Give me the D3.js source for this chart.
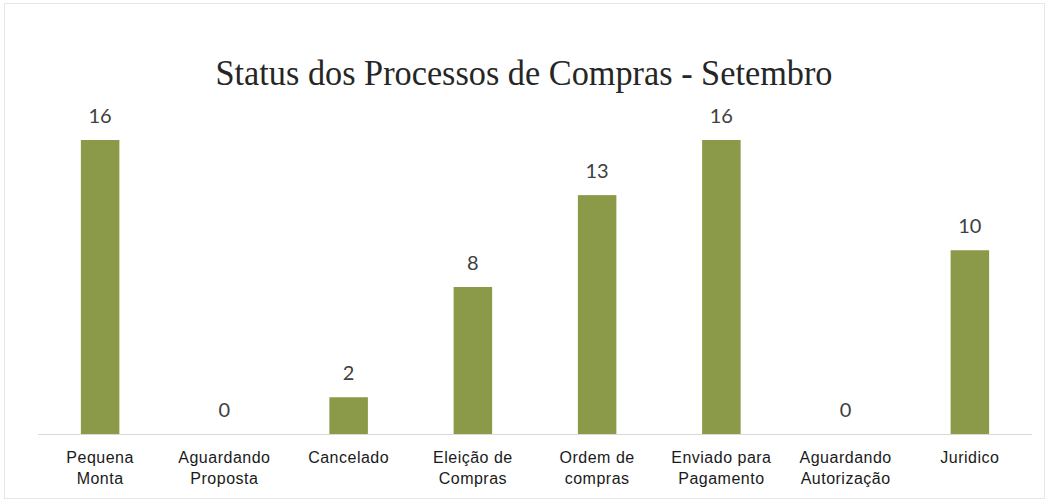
<!DOCTYPE html>
<html>
<head>
<meta charset="utf-8">
<script src="https://cdn.jsdelivr.net/npm/d3@7"></script>
<style>
  body { margin: 0; background: #fff; }
  svg { display: block; }
</style>
</head>
<body>
<svg id="chart"></svg>
<script>
var title = 'Status dos Processos de Compras - Setembro';
var categories = [
  ['Pequena', 'Monta'],
  ['Aguardando', 'Proposta'],
  ['Cancelado'],
  ['Eleição de', 'Compras'],
  ['Ordem de', 'compras'],
  ['Enviado para', 'Pagamento'],
  ['Aguardando', 'Autorização'],
  ['Juridico']
];
var values = [16, 0, 2, 8, 13, 16, 0, 10];

var width = 1049;
var height = 503;
var barColor = '#8a9a48';

var svg = d3.select('#chart')
  .attr('width', width)
  .attr('height', height);

// chart frame
svg.append('rect')
  .attr('x', 4.5).attr('y', 3.5)
  .attr('width', width - 9).attr('height', height - 8)
  .attr('fill', 'none')
  .attr('stroke', '#e6e6e6');

var x = d3.scaleBand()
  .domain(d3.range(categories.length))
  .range([38, 1032])
  .paddingInner(0.69)
  .paddingOuter(0.345);

var y = d3.scaleLinear()
  .domain([0, 16])
  .range([434, 140]);

svg.append('text')
  .attr('x', 524)
  .attr('y', 85)
  .attr('text-anchor', 'middle')
  .attr('font-family', 'Liberation Serif, serif')
  .attr('font-size', 36)
  .attr('fill', '#262626')
  .attr('textLength', 617)
  .attr('lengthAdjust', 'spacingAndGlyphs')
  .text(title);

svg.append('g')
  .selectAll('rect')
  .data(values)
  .enter().append('rect')
  .attr('x', function(d, i) { return x(i); })
  .attr('y', function(d) { return y(d); })
  .attr('width', x.bandwidth())
  .attr('height', function(d) { return y(0) - y(d); })
  .attr('fill', barColor);

// baseline
svg.append('line')
  .attr('x1', 38).attr('x2', 1032)
  .attr('y1', y(0) + 0.5).attr('y2', y(0) + 0.5)
  .attr('stroke', '#d9d9d9');

svg.append('g')
  .selectAll('text')
  .data(values)
  .enter().append('text')
  .attr('x', function(d, i) { return x(i) + x.bandwidth() / 2; })
  .attr('y', function(d) { return y(d) - 17; })
  .attr('text-anchor', 'middle')
  .attr('font-family', 'Lato, sans-serif')
  .attr('font-size', 20)
  .attr('fill', '#404040')
  .text(function(d) { return d; });

var labels = svg.append('g')
  .selectAll('text')
  .data(categories)
  .enter().append('text')
  .attr('x', function(d, i) { return x(i) + x.bandwidth() / 2; })
  .attr('y', 463)
  .attr('text-anchor', 'middle')
  .attr('font-family', 'Liberation Sans, Arial, sans-serif')
  .attr('font-size', 16)
  .attr('letter-spacing', 0.5)
  .attr('fill', '#1a1a1a');

labels.selectAll('tspan')
  .data(function(d) { return d; })
  .enter().append('tspan')
  .attr('x', function() { return d3.select(this.parentNode).attr('x'); })
  .attr('dy', function(d, i) { return i === 0 ? 0 : 21; })
  .text(function(d) { return d; });
</script>
</body>
</html>
